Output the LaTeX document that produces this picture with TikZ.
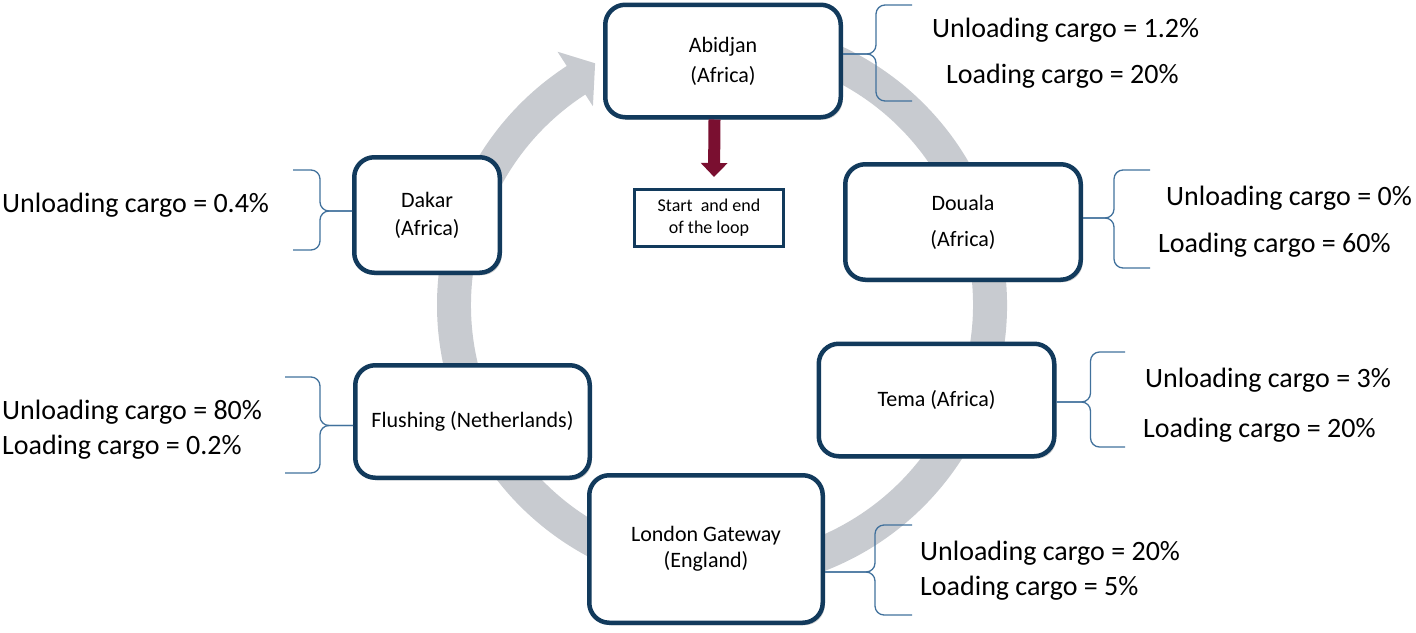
\documentclass[tikz,border=0pt]{standalone}
\usepackage{fontspec}
\setmainfont{Carlito}
\usetikzlibrary{arrows.meta,shadows,calc}
\definecolor{navy}{RGB}{18,58,92}
\definecolor{ringgray}{RGB}{200,203,208}
\definecolor{bracec}{RGB}{65,113,156}
\definecolor{maroonc}{RGB}{122,15,48}
\begin{document}
\begin{tikzpicture}[x=1pt,y=-1pt,
  port/.style={draw=navy, line width=4.5pt, fill=white, rounded corners=20pt,
    align=center, inner sep=0pt, minimum width=235.5pt, minimum height=112.5pt,
    drop shadow={shadow xshift=2pt, shadow yshift=-2.5pt, opacity=0.3, fill=black!60}},
  startbox/.style={draw=navy, line width=3pt, fill=white, align=center, inner sep=0pt,
    minimum width=149pt, minimum height=57pt, font=\fontsize{18}{22}\selectfont},
  lbl/.style={anchor=west, inner sep=0pt, font=\fontsize{28}{34}\selectfont},
  brc/.style={draw=bracec, line width=1.3pt, rounded corners=9pt},
  redarrow/.style={draw=maroonc, line width=12pt, -{Triangle[width=26pt,length=14pt]}}]
\useasboundingbox (0,0) rectangle (1416,632);

% circular arrow
\begin{scope}[shift={(722,305)}, y=1pt]
\fill[ringgray] (100:285) arc[start angle=100, end angle=-237, radius=285]
  -- (-237:302) -- (-242.3:273) -- (-237:237) -- (-237:251)
  arc[start angle=-237, end angle=100, radius=251] -- cycle;
\end{scope}

% ports
\node[port, font=\fontsize{22}{30}\selectfont] (abidjan) at (723,61) {Abidjan\\(Africa)};
\node[port, font=\fontsize{22}{36}\selectfont, minimum height=115.5pt] (douala) at (963,222) {Douala\\(Africa)};
\node[port, font=\fontsize{22}{30}\selectfont] (tema) at (936.5,400) {Tema (Africa)};
\node[port, font=\fontsize{22}{26}\selectfont, minimum width=233.5pt, minimum height=147.5pt] (london) at (706,549) {London Gateway\\(England)};
\node[port, font=\fontsize{22}{30}\selectfont, minimum width=234.5pt] (flushing) at (472.5,421.5) {Flushing (Netherlands)};
\node[port, font=\fontsize{22}{28}\selectfont, minimum width=145.5pt, minimum height=115.5pt] (dakar) at (427,215) {Dakar\\(Africa)};

% start box and arrow
\node[startbox] (start) at (709,218) {Start\ \ and end\\of the loop};
\draw[redarrow] ([xshift=-8.5pt]abidjan.south) -- ([xshift=5pt,yshift=11pt]start.north);

% braces
\coordinate (ta) at ([yshift=7pt]abidjan.east);
\draw[brc] (912,5) -| ([xshift=33pt]ta) -- (ta);
\draw[brc] (912,101) -| ([xshift=33pt]ta) -- (ta);

\coordinate (td) at ([yshift=4pt]douala.east);
\draw[brc] (1150,170) -| ([xshift=31pt]td) -- (td);
\draw[brc] (1150,268) -| ([xshift=31pt]td) -- (td);

\coordinate (tt) at ([yshift=-2pt]tema.east);
\draw[brc] (1125,352) -| ([xshift=34pt]tt) -- (tt);
\draw[brc] (1125,447) -| ([xshift=34pt]tt) -- (tt);

\coordinate (tl) at ([yshift=-23pt]london.east);
\draw[brc] (912,525) -| ([xshift=50pt]tl) -- (tl);
\draw[brc] (912,615) -| ([xshift=50pt]tl) -- (tl);

\coordinate (tk) at ([yshift=4pt]dakar.west);
\draw[brc] (293,170) -| ([xshift=-32pt]tk) -- (tk);
\draw[brc] (293,250) -| ([xshift=-32pt]tk) -- (tk);

\coordinate (tf) at ([yshift=-4pt]flushing.west);
\draw[brc] (285,377) -| ([xshift=-33pt]tf) -- (tf);
\draw[brc] (285,473) -| ([xshift=-33pt]tf) -- (tf);

% labels
\node[lbl] (a1) at (932,30) {Unloading cargo = 1.2\%};
\node[lbl] (a2) at (946,76) {Loading cargo = 20\%};
\node[lbl] (d1) at (1166,198) {Unloading cargo = 0\%};
\node[lbl] (d2) at (1158,245) {Loading cargo = 60\%};
\node[lbl] (t1) at (1145,380) {Unloading cargo = 3\%};
\node[lbl] (t2) at (1143,430) {Loading cargo = 20\%};
\node[lbl] (l1) at (920,553) {Unloading cargo = 20\%};
\node[lbl] (l2) at (920,588) {Loading cargo = 5\%};
\node[lbl] (k1) at (2,205) {Unloading cargo = 0.4\%};
\node[lbl] (f1) at (2,412) {Unloading cargo = 80\%};
\node[lbl] (f2) at (2,447) {Loading cargo = 0.2\%};
\end{tikzpicture}
\end{document}
